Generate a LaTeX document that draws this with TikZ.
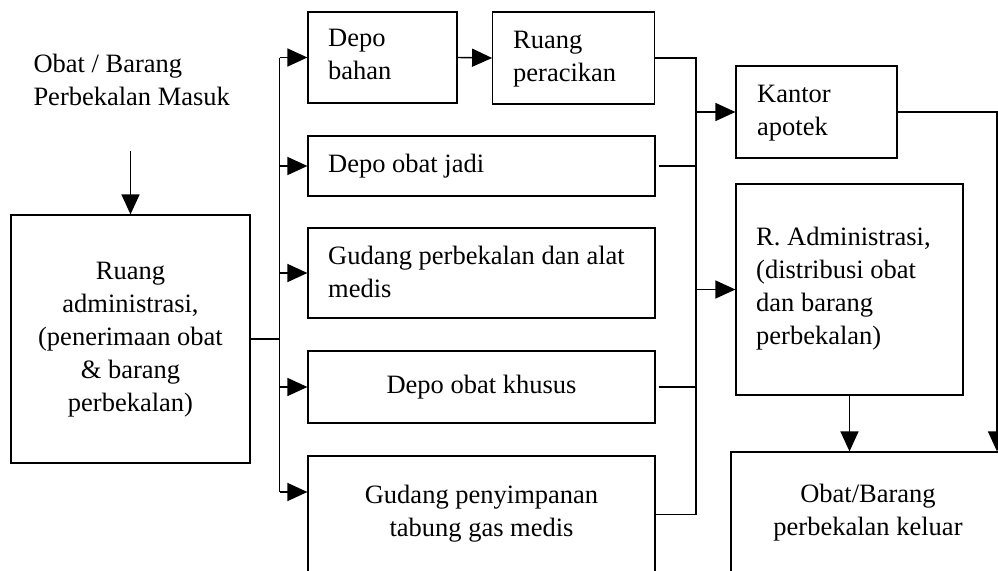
\documentclass[tikz,border=0pt]{standalone}
\usepackage{fontspec}
\setmainfont{Liberation Serif}
\usetikzlibrary{arrows.meta}
\begin{document}
\begin{tikzpicture}[
  x=1pt, y=-1pt,
  box/.style={draw, line width=1.2pt, inner sep=0pt},
  txt/.style={inner sep=0pt, font=\fontsize{26.5pt}{33pt}\selectfont},
  lefttxt/.style={txt, anchor=west, align=left},
  midtxt/.style={txt, anchor=center, align=center},
  link/.style={line width=1.4pt},
  arr/.style={link, -{Triangle[length=20pt,width=18pt]}}
]
\useasboundingbox (0,0) rectangle (998,570);

% ---- boxes ----
\node[box, minimum width=239pt, minimum height=248pt] (adm)    at (130.5,339)   {};
\node[box, minimum width=149pt, minimum height=91pt]  (dbahan) at (382.5,57.5)  {};
\node[box, minimum width=162pt, minimum height=92pt]  (rpc)    at (573.7,58)    {};
\node[box, minimum width=347pt, minimum height=60pt]  (doj)    at (481.5,166)   {};
\node[box, minimum width=347pt, minimum height=90pt]  (gpa)    at (481.5,273)   {};
\node[box, minimum width=347pt, minimum height=72pt]  (dok)    at (481.5,387)   {};
\node[box, minimum width=347pt, minimum height=120pt] (gpt)    at (481.5,516)   {};
\node[box, minimum width=161pt, minimum height=92pt]  (kantor) at (816.5,112)   {};
\node[box, minimum width=227pt, minimum height=211pt] (radm)   at (849.5,289.5) {};
\node[box, minimum width=274pt, minimum height=124pt] (keluar) at (868,514)     {};

% ---- texts ----
\node[lefttxt] (t-in) at (33.3,82.6) {\strut Obat / Barang\\\strut Perbekalan Masuk};
\node[midtxt] (t-adm) at (130.5,338.4)
  {\strut Ruang\\\strut administrasi,\\\strut (penerimaan obat\\\strut \& barang\\\strut perbekalan)};
\node[lefttxt] (t-dbahan) at (328,56.6)  {\strut Depo\\\strut bahan};
\node[lefttxt] (t-rpc)    at (513,58.4)  {\strut Ruang\\\strut peracikan};
\node[lefttxt] (t-doj)    at (328,165.7) {\strut Depo obat jadi};
\node[lefttxt] (t-gpa)    at (328,273.9) {\strut Gudang perbekalan dan alat\\\strut medis};
\node[midtxt]  (t-dok)    at (481.5,386.7) {\strut Depo obat khusus};
\node[midtxt]  (t-gpt)    at (481.5,513.2) {\strut Gudang penyimpanan\\\strut tabung gas medis};
\node[lefttxt] (t-kantor) at (757,112.2) {\strut Kantor\\\strut apotek};
\node[lefttxt] (t-radm)   at (756,287.9)
  {\strut R. Administrasi,\\\strut (distribusi obat\\\strut dan barang\\\strut perbekalan)};
\node[midtxt]  (t-keluar) at (868,512.2) {\strut Obat/Barang\\\strut perbekalan keluar};

% ---- bus points ----
\coordinate (inTop) at (130.5,151);
\coordinate (lbTop) at (279.5,57.5);
\coordinate (lbBot) at (279.5,492);
\coordinate (rbTop) at (696,58);
\coordinate (rbBot) at (696,514.5);
\coordinate (kr)    at (997,112);

% ---- incoming ----
\draw[arr] (inTop) -- (adm.north);

% ---- left distribution bus ----
\draw[link] (adm.east) -- (adm.east -| lbTop);
\draw[link] (lbTop) -- (lbBot);
\draw[arr] (lbTop) -- (dbahan.west);
\draw[arr] (doj.west -| lbTop) -- (doj.west);
\draw[arr] (gpa.west -| lbTop) -- (gpa.west);
\draw[arr] (dok.west -| lbTop) -- (dok.west);
\draw[arr] (lbBot) -- (lbBot -| gpt.west);
\draw[arr] (dbahan.east) -- (rpc.west);

% ---- right collecting bus ----
\draw[link] (rpc.east) -- (rbTop) -- (rbBot) -- (rbBot -| gpt.east);
\draw[link, shorten <=3pt] (doj.east) -- (doj.east -| rbTop);
\draw[link, shorten <=3pt] (dok.east) -- (dok.east -| rbTop);
\draw[arr] (kantor.west -| rbTop) -- (kantor.west);
\draw[arr] (radm.west -| rbTop) -- (radm.west);

% ---- outgoing ----
\draw[arr] (kantor.east) -- (kr) -- (kr |- keluar.north);
\draw[arr] (radm.south) -- (radm.south |- keluar.north);
\end{tikzpicture}
\end{document}
